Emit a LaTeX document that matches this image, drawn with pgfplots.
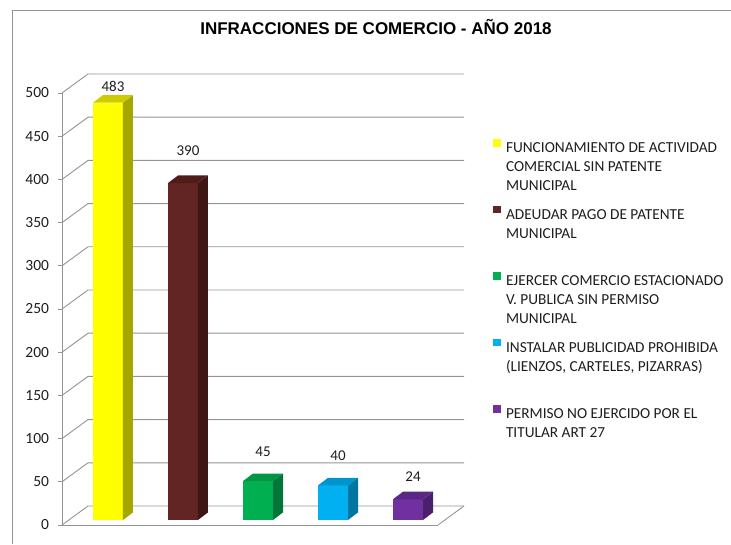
\documentclass[border=0pt]{standalone}
\usepackage{fontspec}
\setmainfont{Carlito}
\newfontfamily\titlefont{Liberation Sans}
\usepackage{pgfplots}
\pgfplotsset{compat=1.18}

\definecolor{gridcol}{RGB}{148,148,148}
\definecolor{txt}{RGB}{30,30,30}
\definecolor{cY}{RGB}{255,255,0}
\definecolor{cYs}{RGB}{166,166,0}
\definecolor{cYt}{RGB}{206,204,0}
\definecolor{cB}{RGB}{99,37,35}
\definecolor{cBs}{RGB}{62,22,20}
\definecolor{cBt}{RGB}{80,28,26}
\definecolor{cG}{RGB}{0,176,80}
\definecolor{cGs}{RGB}{0,118,56}
\definecolor{cGt}{RGB}{0,150,68}
\definecolor{cC}{RGB}{0,176,240}
\definecolor{cCs}{RGB}{0,117,162}
\definecolor{cCt}{RGB}{0,148,205}
\definecolor{cP}{RGB}{112,48,160}
\definecolor{cPs}{RGB}{74,31,107}
\definecolor{cPt}{RGB}{91,39,134}

% side and top faces of a bar, drawn from the top of its front face
\newcommand\defcube[3]{%
  \pgfdeclareplotmark{#1}{%
    \pgfmathsetmacro\cubeh{\barval*0.864}%
    \fill[#2] (15pt,0pt) -- (25pt,7.6pt) -- (25pt,{(7.6-\cubeh)*1pt}) -- (15pt,{-\cubeh*1pt}) -- cycle;
    \fill[#3] (-15pt,0pt) -- (15pt,0pt) -- (25pt,7.6pt) -- (-5pt,7.6pt) -- cycle;
  }}
\defcube{cubeY}{cYs}{cYt}
\defcube{cubeB}{cBs}{cBt}
\defcube{cubeG}{cGs}{cGt}
\defcube{cubeC}{cCs}{cCt}
\defcube{cubeP}{cPs}{cPt}

\pgfplotsset{
  bar3d/.style n args={3}{
    ybar, bar width=30pt, bar shift=0pt, fill=#1, draw=none, yshift=5pt,
    mark=#2, visualization depends on=rawy \as \barval,
    nodes near coords={\pgfmathprintnumber{\pgfplotspointmeta}},
    every node near coord/.append style={anchor=center, xshift=5pt, yshift=#3,
      text=txt, font=\fontsize{15}{17}\selectfont},
    legend image code/.code={\fill[#1] (0pt,1pt) rectangle (7.5pt,8.5pt);},
  },
}

\begin{document}
\begin{tikzpicture}
\useasboundingbox (0,0) rectangle (731pt,544pt);
\draw[gridcol, line width=1pt] (12pt,0pt) -- (12pt,533pt) -- (731pt,533pt);
\begin{axis}[
  x=75pt, y=0.864pt,
  xmin=-0.6133, xmax=4.4, ymin=0, ymax=500,
  anchor=south west, at={(62pt,19pt)},
  clip=false,
  axis x line*=bottom, axis y line*=left,
  axis line style={gridcol, line width=0.9pt},
  xtick=\empty,
  ytick={0,50,...,500},
  tick align=outside, major tick length=4pt,
  tick style={gridcol, line width=0.9pt},
  /pgf/number format/assume math mode=true,
  yticklabel style={font=\fontsize{15.5}{17}\selectfont, text=txt, xshift=-5.5pt},
  title={INFRACCIONES DE COMERCIO - AÑO 2018},
  title style={at={(axis description cs:0.8351,1.1389)}, anchor=center,
    font=\titlefont\bfseries\fontsize{17}{20}\selectfont},
  legend style={at={(axis description cs:1.1463,0.893)}, anchor=north west,
    draw=none, fill=none, inner sep=0pt, outer sep=0pt,
    row sep=0pt, column sep=5.5pt,
    font=\fontsize{15.3}{19}\selectfont, text=txt,
    cells={anchor=base west}, nodes={inner sep=0pt, text depth=, text height=}},
]
% walls and floor
\pgfplotsinvokeforeach{0,50,100,150,200,250,300,350,400,450,500}{
  \draw[gridcol, line width=0.9pt] (axis cs:-0.6133,#1) -- ++(26pt,19pt) -- ++(376pt,0pt);
}
\draw[gridcol, line width=0.9pt] (axis cs:4.4,0) -- ++(26pt,19pt);

\addplot[bar3d={cY}{cubeY}{16.7pt}] coordinates {(0,483)};
\addlegendentry{\parbox[t][66.25pt][t]{225pt}{\raggedright\strut FUNCIONAMIENTO DE ACTIVIDAD\\COMERCIAL SIN PATENTE\\MUNICIPAL}}
\addplot[bar3d={cB}{cubeB}{32pt}] coordinates {(1,390)};
\addlegendentry{\parbox[t][66.25pt][t]{225pt}{\raggedright\strut ADEUDAR PAGO DE PATENTE\\MUNICIPAL}}
\addplot[bar3d={cG}{cubeG}{29pt}] coordinates {(2,45)};
\addlegendentry{\parbox[t][66.25pt][t]{225pt}{\raggedright\strut EJERCER COMERCIO ESTACIONADO\\V. PUBLICA SIN PERMISO\\MUNICIPAL}}
\addplot[bar3d={cC}{cubeC}{29.4pt}] coordinates {(3,40)};
\addlegendentry{\parbox[t][66.25pt][t]{225pt}{\raggedright\strut INSTALAR PUBLICIDAD PROHIBIDA\\(LIENZOS, CARTELES, PIZARRAS)}}
\addplot[bar3d={cP}{cubeP}{22.3pt}] coordinates {(4,24)};
\addlegendentry{\parbox[t][66.25pt][t]{225pt}{\raggedright\strut PERMISO NO EJERCIDO POR EL\\TITULAR ART 27}}
\end{axis}
\end{tikzpicture}
\end{document}
